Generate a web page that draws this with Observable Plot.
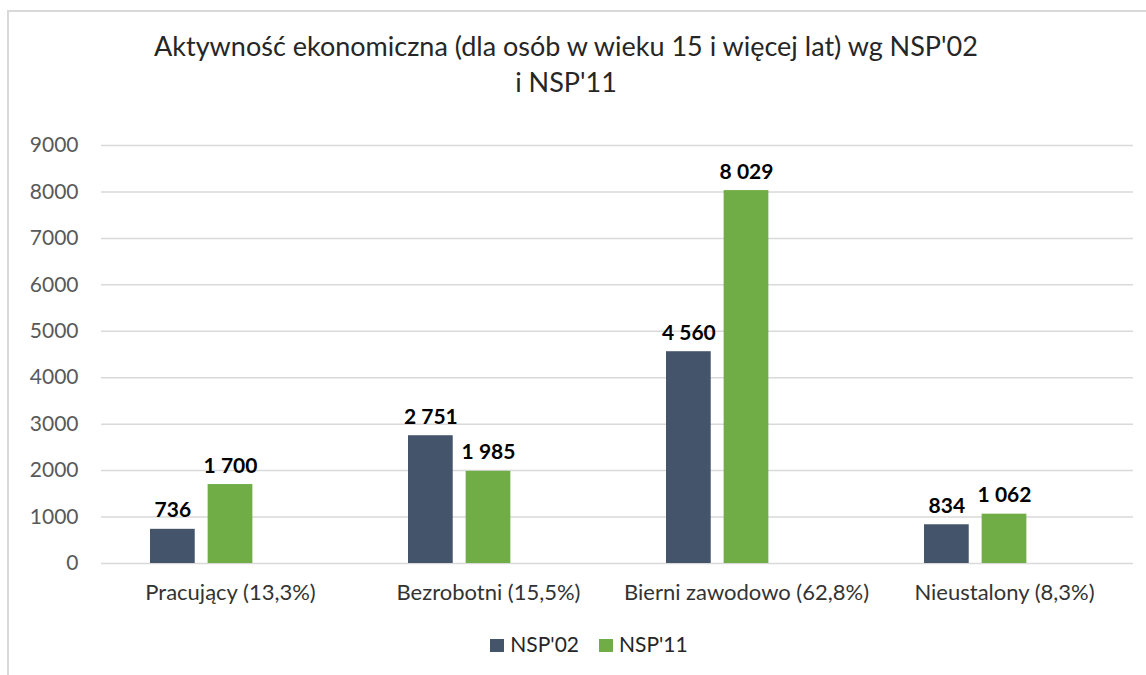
<!DOCTYPE html>
<html>
<head>
<meta charset="utf-8">
<script src="https://cdn.jsdelivr.net/npm/d3@7"></script>
<script src="https://cdn.jsdelivr.net/npm/@observablehq/plot@0.6"></script>
<style>
  html, body { margin: 0; padding: 0; background: #fff; }
  body { width: 1146px; height: 675px; overflow: hidden; position: relative; font-family: Lato, "Open Sans", sans-serif; }
  #frame { position: absolute; left: 7px; top: 10px; width: 1200px; height: 700px;
           border-left: 2px solid #d9d9d9; border-top: 2px solid #d9d9d9; }
  #title { position: absolute; left: 0; width: 1132px; top: 28px; text-align: center;
           font-size: 27px; line-height: 36px; color: #262626; }
  #chart { position: absolute; left: 0; top: 110px; }
  #legend { position: absolute; left: 0; width: 1178px; top: 631px; text-align: center;
            font-size: 21px; color: #262626; }
  #legend span.item { display: inline-block; margin: 0 10px; }
  #legend span.sw { display: inline-block; width: 14px; height: 13px; margin-right: 6px; vertical-align: 0px; }
</style>
</head>
<body>
<div id="frame"></div>
<div id="title">Aktywność ekonomiczna (dla osób w wieku 15 i więcej lat) wg NSP'02<br>i NSP'11</div>
<div id="chart"></div>
<div id="legend"></div>
<script>
const categories = ["Pracujący (13,3%)", "Bezrobotni (15,5%)", "Bierni zawodowo (62,8%)", "Nieustalony (8,3%)"];
const seriesNames = ["NSP'02", "NSP'11"];
const nsp02 = [736, 2751, 4560, 834];
const nsp11 = [1700, 1985, 8029, 1062];
const yTicks = [0, 1000, 2000, 3000, 4000, 5000, 6000, 7000, 8000, 9000];
const colors = ["#44546A", "#70AD47"];

const data = [];
categories.forEach((c, i) => {
  data.push({category: c, series: seriesNames[0], value: nsp02[i]});
  data.push({category: c, series: seriesNames[1], value: nsp11[i]});
});
const fmt = v => d3.format(",")(v).replace(/,/g, " ");

const plot = Plot.plot({
  width: 1146,
  height: 500,
  marginLeft: 100,
  marginRight: 12,
  marginTop: 35,
  marginBottom: 47,
  style: {fontFamily: "Lato, 'Open Sans', sans-serif", background: "transparent"},
  fx: {domain: categories, paddingInner: 0, paddingOuter: 0, label: null},
  x: {domain: [...seriesNames, "_"], paddingInner: 0.224, paddingOuter: 0.85, axis: null, round: false},
  y: {domain: [0, 9000], label: null},
  color: {domain: seriesNames, range: colors},
  marks: [
    Plot.ruleY(yTicks, {stroke: "#d9d9d9", strokeWidth: 1.5}),
    Plot.axisY({ticks: yTicks, tickFormat: d => String(d), tickSize: 0, tickPadding: 23, fontSize: 21, fill: "#595959", label: null}),
    Plot.axisFx({anchor: "bottom", tickSize: 0, tickPadding: 21, fontSize: 22, fill: "#333333", label: null}),
    Plot.barY(data, {fx: "category", x: "series", y: "value", fill: "series"}),
    Plot.text(data, {fx: "category", x: "series", y: "value", text: d => fmt(d.value), lineAnchor: "bottom", dy: -12,
                     fontSize: 21, fontWeight: "bold", fill: "#000"})
  ]
});
document.getElementById("chart").appendChild(plot);

const legend = document.getElementById("legend");
seriesNames.forEach((s, i) => {
  const item = document.createElement("span");
  item.className = "item";
  const sw = document.createElement("span");
  sw.className = "sw";
  sw.style.background = colors[i];
  item.appendChild(sw);
  item.appendChild(document.createTextNode(s));
  legend.appendChild(item);
});
</script>
</body>
</html>
